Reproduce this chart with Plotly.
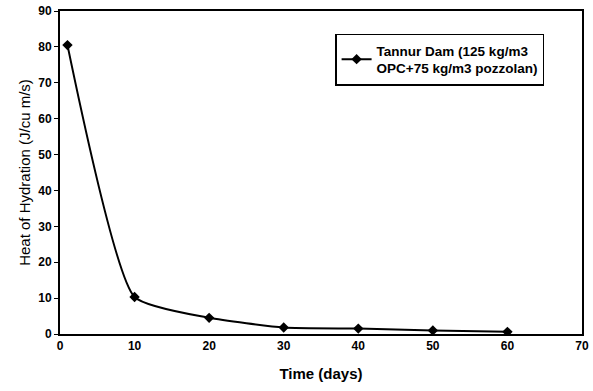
import plotly.graph_objects as go

days = [1, 10, 20, 30, 40, 50, 60]
heat = [80.5, 10.3, 4.5, 1.8, 1.5, 1.0, 0.6]
series_name = "Tannur Dam (125 kg/m3<br>OPC+75 kg/m3 pozzolan)"
x_ticks = [0, 10, 20, 30, 40, 50, 60, 70]
y_ticks = [0, 10, 20, 30, 40, 50, 60, 70, 80, 90]

fig = go.Figure()
fig.add_trace(go.Scatter(
    x=days, y=heat, name=series_name, mode="lines+markers",
    line=dict(color="black", width=2, shape="spline", smoothing=0.5),
    marker=dict(symbol="diamond", size=8, color="black"),
))

fig.update_layout(
    width=593, height=391,
    margin=dict(l=60, r=11, t=11, b=57),
    paper_bgcolor="white", plot_bgcolor="white",
    showlegend=True,
    font=dict(family="Liberation Sans, Arial, sans-serif", color="black", size=12),
    legend=dict(
        x=0.527, y=0.93, xanchor="left", yanchor="top",
        bordercolor="black", borderwidth=1.5, bgcolor="white",
        font=dict(family="Liberation Sans, Arial, sans-serif", size=13.5, color="black", weight="bold"),
        itemwidth=30, tracegroupgap=0,
    ),
    xaxis=dict(
        range=[0, 70], tickvals=x_ticks, showgrid=False, zeroline=False,
        showline=True, linecolor="black", linewidth=2, mirror=True,
        ticks="", tickfont=dict(size=12, weight="bold"), automargin=False,
        title=dict(text="Time (days)", font=dict(size=15, weight="bold"), standoff=16),
    ),
    yaxis=dict(
        range=[0, 90], tickvals=y_ticks, showgrid=False, zeroline=False,
        showline=True, linecolor="black", linewidth=2, mirror=True,
        ticks="outside", ticklen=4, tickcolor="black", automargin=False,
        tickfont=dict(size=12, weight="bold"),
        title=dict(text="Heat of Hydration (J/cu m/s)", font=dict(size=15), standoff=4),
    ),
)

fig.write_html("out.html")
